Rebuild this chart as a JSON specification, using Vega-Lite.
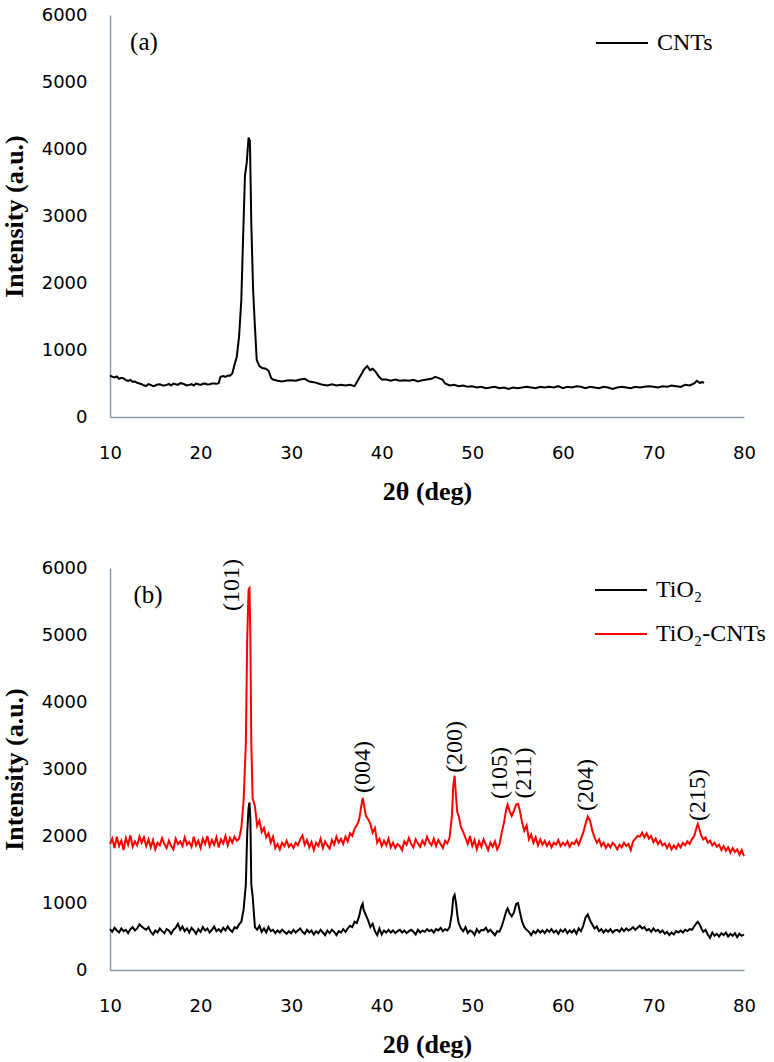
{
  "$schema": "https://vega.github.io/schema/vega-lite/v6.json",
  "background": "white",
  "padding": {"left": 1, "top": 6, "right": 5, "bottom": 5},
  "spacing": 55,
  "resolve": {"scale": {"color": "independent"}, "legend": {"color": "independent"}},
  "config": {
    "view": {"stroke": null},
    "axis": {"grid": false, "ticks": false, "tickSize": 0, "labelFlush": false, "domainColor": "#8e9ca8", "domainWidth": 1.5, "labelFont": "DejaVu Sans", "labelFontSize": 18, "labelColor": "#000", "titleFont": "Liberation Serif", "titleFontSize": 26, "titleFontWeight": "bold", "titleColor": "#000"},
    "axisX": {"labelPadding": 27, "titlePadding": 16},
    "axisY": {"labelPadding": 23, "titlePadding": 14},
    "legend": {"orient": "none", "symbolType": "stroke", "symbolStrokeWidth": 2, "symbolSize": 2704, "labelFont": "Liberation Serif", "labelFontSize": 24, "labelColor": "#000", "labelOffset": 8, "padding": 0}
  },
  "vconcat": [
    {
      "width": 634,
      "height": 402,
      "layer": [
        {
          "data": {"values": [
            {"x":10.0,"y":620},{"x":10.25,"y":600},{"x":10.5,"y":590},{"x":10.75,"y":605},{"x":11.0,"y":570},{"x":11.25,"y":585},{"x":11.5,"y":575},{"x":11.75,"y":550},{"x":12.0,"y":540},{"x":12.25,"y":555},{"x":12.5,"y":525},{"x":12.75,"y":530},{"x":13.0,"y":510},{"x":13.25,"y":500},{"x":13.5,"y":490},{"x":13.75,"y":470},{"x":14.0,"y":465},{"x":14.25,"y":490},{"x":14.5,"y":480},{"x":14.75,"y":460},{"x":15.0,"y":470},{"x":15.25,"y":485},{"x":15.5,"y":490},{"x":15.75,"y":475},{"x":16.0,"y":470},{"x":16.25,"y":480},{"x":16.5,"y":495},{"x":16.75,"y":470},{"x":17.0,"y":500},{"x":17.25,"y":490},{"x":17.5,"y":480},{"x":17.75,"y":505},{"x":18.0,"y":500},{"x":18.25,"y":485},{"x":18.5,"y":470},{"x":18.75,"y":480},{"x":19.0,"y":490},{"x":19.25,"y":470},{"x":19.5,"y":500},{"x":19.75,"y":490},{"x":20.0,"y":480},{"x":20.25,"y":495},{"x":20.5,"y":500},{"x":20.75,"y":485},{"x":21.0,"y":490},{"x":21.25,"y":500},{"x":21.5,"y":500},{"x":21.75,"y":495},{"x":22.0,"y":505},{"x":22.2,"y":600},{"x":22.5,"y":610},{"x":22.75,"y":600},{"x":23.0,"y":620},{"x":23.25,"y":615},{"x":23.5,"y":650},{"x":23.75,"y":780},{"x":24.0,"y":900},{"x":24.25,"y":1200},{"x":24.5,"y":1750},{"x":24.7,"y":2700},{"x":24.9,"y":3600},{"x":25.1,"y":3800},{"x":25.3,"y":4170},{"x":25.45,"y":4120},{"x":25.6,"y":2900},{"x":25.8,"y":1900},{"x":26.0,"y":1350},{"x":26.2,"y":850},{"x":26.5,"y":760},{"x":26.8,"y":730},{"x":27.2,"y":720},{"x":27.5,"y":690},{"x":27.8,"y":580},{"x":28.0,"y":560},{"x":28.5,"y":540},{"x":29.0,"y":530},{"x":29.5,"y":545},{"x":30.0,"y":550},{"x":30.5,"y":540},{"x":31.0,"y":560},{"x":31.5,"y":570},{"x":32.0,"y":530},{"x":32.5,"y":520},{"x":33.0,"y":500},{"x":33.5,"y":480},{"x":34.0,"y":470},{"x":34.5,"y":490},{"x":35.0,"y":470},{"x":35.5,"y":480},{"x":36.0,"y":470},{"x":36.5,"y":480},{"x":37.0,"y":460},{"x":37.5,"y":580},{"x":37.8,"y":650},{"x":38.1,"y":720},{"x":38.4,"y":760},{"x":38.7,"y":700},{"x":39.0,"y":720},{"x":39.3,"y":680},{"x":39.7,"y":600},{"x":40.0,"y":560},{"x":40.5,"y":560},{"x":41.0,"y":540},{"x":41.5,"y":560},{"x":42.0,"y":540},{"x":42.5,"y":550},{"x":43.0,"y":540},{"x":43.5,"y":555},{"x":44.0,"y":530},{"x":44.5,"y":550},{"x":45.0,"y":560},{"x":45.5,"y":570},{"x":45.9,"y":600},{"x":46.3,"y":580},{"x":46.7,"y":560},{"x":47.0,"y":500},{"x":47.5,"y":470},{"x":48.0,"y":480},{"x":48.5,"y":460},{"x":49.0,"y":470},{"x":49.5,"y":450},{"x":50.0,"y":460},{"x":50.5,"y":440},{"x":51.0,"y":450},{"x":51.5,"y":430},{"x":52.0,"y":440},{"x":52.5,"y":450},{"x":53.0,"y":430},{"x":53.5,"y":440},{"x":54.0,"y":420},{"x":54.5,"y":440},{"x":55.0,"y":430},{"x":55.5,"y":440},{"x":56.0,"y":450},{"x":56.5,"y":440},{"x":57.0,"y":430},{"x":57.5,"y":450},{"x":58.0,"y":440},{"x":58.5,"y":450},{"x":59.0,"y":440},{"x":59.5,"y":460},{"x":60.0,"y":430},{"x":60.5,"y":450},{"x":61.0,"y":440},{"x":61.5,"y":460},{"x":62.0,"y":450},{"x":62.5,"y":430},{"x":63.0,"y":450},{"x":63.5,"y":440},{"x":64.0,"y":430},{"x":64.5,"y":450},{"x":65.0,"y":440},{"x":65.5,"y":420},{"x":66.0,"y":440},{"x":66.5,"y":450},{"x":67.0,"y":440},{"x":67.5,"y":430},{"x":68.0,"y":450},{"x":68.5,"y":440},{"x":69.0,"y":450},{"x":69.5,"y":460},{"x":70.0,"y":450},{"x":70.5,"y":440},{"x":71.0,"y":460},{"x":71.5,"y":450},{"x":72.0,"y":470},{"x":72.5,"y":460},{"x":73.0,"y":450},{"x":73.5,"y":480},{"x":74.0,"y":470},{"x":74.5,"y":500},{"x":74.8,"y":540},{"x":75.1,"y":510},{"x":75.4,"y":520},{"x":75.6,"y":510}
          ]},
          "mark": {"type": "line", "strokeWidth": 2, "interpolate": "linear"},
          "encoding": {
            "x": {"field": "x", "type": "quantitative", "scale": {"domain": [10, 80], "nice": false}, "axis": {"title": "2θ (deg)", "values": [10, 20, 30, 40, 50, 60, 70, 80], "format": "d"}},
            "y": {"field": "y", "type": "quantitative", "scale": {"domain": [0, 6000], "nice": false}, "axis": {"title": "Intensity (a.u.)", "values": [0, 1000, 2000, 3000, 4000, 5000, 6000], "format": "d"}},
            "color": {"datum": "CNTs", "type": "nominal", "scale": {"domain": ["CNTs"], "range": ["#000000"]}, "legend": {"title": null, "legendX": 485, "legendY": 1}}
          }
        },
        {
          "data": {"values": [{"x": 13.75, "y": 5600, "label": "(a)"}]},
          "mark": {"type": "text", "font": "Liberation Serif", "fontSize": 25, "color": "#000", "align": "center", "baseline": "middle"},
          "encoding": {
            "x": {"field": "x", "type": "quantitative"},
            "y": {"field": "y", "type": "quantitative"},
            "text": {"field": "label"}
          }
        }
      ]
    },
    {
      "width": 634,
      "height": 402,
      "layer": [
        {
          "data": {"name": "b"},
          "mark": {"type": "line", "strokeWidth": 2},
          "encoding": {
            "x": {"field": "x", "type": "quantitative", "scale": {"domain": [10, 80], "nice": false}, "axis": {"title": "2θ (deg)", "values": [10, 20, 30, 40, 50, 60, 70, 80], "format": "d"}},
            "y": {"field": "r", "type": "quantitative", "scale": {"domain": [0, 6000], "nice": false}, "axis": {"title": "Intensity (a.u.)", "values": [0, 1000, 2000, 3000, 4000, 5000, 6000], "format": "d"}},
            "color": {"datum": "TiO₂-CNTs", "type": "nominal", "scale": {"domain": ["TiO₂", "TiO₂-CNTs"], "range": ["#000000", "#ff0000"]}, "legend": {"title": null, "legendX": 484, "legendY": -5, "rowPadding": 5}}
          }
        },
        {
          "data": {"name": "b"},
          "mark": {"type": "line", "strokeWidth": 2},
          "encoding": {
            "x": {"field": "x", "type": "quantitative"},
            "y": {"field": "t", "type": "quantitative"},
            "color": {"datum": "TiO₂", "type": "nominal"}
          }
        },
        {
          "data": {"values": [
            {"x": 14.2, "y": 5600, "label": "(b)"}
          ]},
          "mark": {"type": "text", "font": "Liberation Serif", "fontSize": 25, "color": "#000", "align": "center", "baseline": "middle"},
          "encoding": {
            "x": {"field": "x", "type": "quantitative"},
            "y": {"field": "y", "type": "quantitative"},
            "text": {"field": "label"}
          }
        },
        {
          "data": {"values": [
            {"x": 23.5, "y": 5745, "label": "(101)"},
            {"x": 37.9, "y": 3030, "label": "(004)"},
            {"x": 48.06, "y": 3330, "label": "(200)"},
            {"x": 53.1, "y": 2940, "label": "(105)"},
            {"x": 55.7, "y": 2940, "label": "(211)"},
            {"x": 62.6, "y": 2760, "label": "(204)"},
            {"x": 74.9, "y": 2610, "label": "(215)"}
          ]},
          "mark": {"type": "text", "font": "Liberation Serif", "fontSize": 24, "color": "#000", "align": "center", "baseline": "middle", "angle": 270},
          "encoding": {
            "x": {"field": "x", "type": "quantitative"},
            "y": {"field": "y", "type": "quantitative"},
            "text": {"field": "label"}
          }
        }
      ]
    }
  ],
  "datasets": {
    "b": [
      {"x":10.0,"t":610,"r":1880},{"x":10.25,"t":570,"r":1960},{"x":10.5,"t":630,"r":1820},{"x":10.75,"t":590,"r":1990},{"x":11.0,"t":560,"r":1850},{"x":11.25,"t":620,"r":1930},{"x":11.5,"t":580,"r":1790},{"x":11.75,"t":600,"r":1970},{"x":12.0,"t":550,"r":1870},{"x":12.25,"t":610,"r":2010},{"x":12.5,"t":640,"r":1840},{"x":12.75,"t":590,"r":1920},{"x":13.0,"t":620,"r":1860},{"x":13.25,"t":680,"r":1990},{"x":13.5,"t":650,"r":1900},{"x":13.75,"t":620,"r":1980},{"x":14.0,"t":600,"r":1850},{"x":14.25,"t":640,"r":1950},{"x":14.5,"t":570,"r":1830},{"x":14.75,"t":530,"r":1940},
      {"x":15.0,"t":590,"r":1800},{"x":15.25,"t":560,"r":1900},{"x":15.5,"t":620,"r":1860},{"x":15.75,"t":580,"r":1970},{"x":16.0,"t":550,"r":1880},{"x":16.25,"t":610,"r":1820},{"x":16.5,"t":590,"r":1930},{"x":16.75,"t":540,"r":1850},{"x":17.0,"t":600,"r":1800},{"x":17.25,"t":630,"r":1960},{"x":17.5,"t":690,"r":1880},{"x":17.75,"t":600,"r":1920},{"x":18.0,"t":650,"r":1850},{"x":18.25,"t":580,"r":1980},{"x":18.5,"t":620,"r":1870},{"x":18.75,"t":560,"r":1910},{"x":19.0,"t":630,"r":1840},{"x":19.25,"t":590,"r":1990},{"x":19.5,"t":540,"r":1860},{"x":19.75,"t":610,"r":1930},
      {"x":20.0,"t":570,"r":1820},{"x":20.25,"t":640,"r":1960},{"x":20.5,"t":590,"r":1880},{"x":20.75,"t":620,"r":2000},{"x":21.0,"t":560,"r":1850},{"x":21.25,"t":600,"r":1940},{"x":21.5,"t":650,"r":1870},{"x":21.75,"t":580,"r":1980},{"x":22.0,"t":610,"r":1830},{"x":22.25,"t":570,"r":1950},{"x":22.5,"t":630,"r":1890},{"x":22.75,"t":590,"r":2000},{"x":23.0,"t":650,"r":1860},{"x":23.25,"t":600,"r":1970},{"x":23.5,"t":570,"r":1900},{"x":23.75,"t":640,"r":1990},{"x":24.0,"t":620,"r":1930},{"x":24.25,"t":680,"r":1960},{"x":24.5,"t":720,"r":2120},{"x":24.75,"t":900,"r":2530},
      {"x":25.0,"t":1280,"r":3380},{"x":25.15,"t":2050,"r":4950},{"x":25.3,"t":2420,"r":5680},{"x":25.4,"t":2500,"r":5700},{"x":25.5,"t":2250,"r":4950},{"x":25.6,"t":1280,"r":3400},{"x":25.75,"t":1100,"r":2560},{"x":26.0,"t":640,"r":2450},{"x":26.25,"t":600,"r":2150},{"x":26.5,"t":660,"r":2230},{"x":26.75,"t":570,"r":2060},{"x":27.0,"t":620,"r":2120},{"x":27.25,"t":560,"r":1980},{"x":27.5,"t":640,"r":2040},{"x":27.75,"t":580,"r":1900},{"x":28.0,"t":600,"r":1990},{"x":28.25,"t":550,"r":1820},{"x":28.5,"t":590,"r":1880},{"x":28.75,"t":560,"r":1800},{"x":29.0,"t":600,"r":1900},
      {"x":29.25,"t":570,"r":1850},{"x":29.5,"t":540,"r":1930},{"x":29.75,"t":580,"r":1840},{"x":30.0,"t":550,"r":1880},{"x":30.25,"t":600,"r":1820},{"x":30.5,"t":560,"r":1900},{"x":30.75,"t":590,"r":1860},{"x":31.0,"t":620,"r":1950},{"x":31.25,"t":570,"r":2010},{"x":31.5,"t":540,"r":1870},{"x":31.75,"t":600,"r":1940},{"x":32.0,"t":560,"r":1830},{"x":32.25,"t":590,"r":1910},{"x":32.5,"t":530,"r":1790},{"x":32.75,"t":580,"r":1900},{"x":33.0,"t":550,"r":1850},{"x":33.25,"t":600,"r":1960},{"x":33.5,"t":560,"r":1820},{"x":33.75,"t":520,"r":1920},{"x":34.0,"t":590,"r":1860},
      {"x":34.25,"t":550,"r":1810},{"x":34.5,"t":600,"r":1940},{"x":34.75,"t":570,"r":1870},{"x":35.0,"t":520,"r":1990},{"x":35.25,"t":580,"r":1900},{"x":35.5,"t":560,"r":1960},{"x":35.75,"t":610,"r":1880},{"x":36.0,"t":570,"r":1990},{"x":36.25,"t":620,"r":1920},{"x":36.5,"t":660,"r":2040},{"x":36.75,"t":640,"r":2000},{"x":37.0,"t":720,"r":2110},{"x":37.25,"t":700,"r":2160},{"x":37.5,"t":800,"r":2240},{"x":37.75,"t":950,"r":2450},{"x":37.9,"t":990,"r":2570},{"x":38.0,"t":900,"r":2500},{"x":38.25,"t":820,"r":2300},{"x":38.5,"t":740,"r":2250},{"x":38.75,"t":640,"r":2180},
      {"x":39.0,"t":690,"r":2050},{"x":39.25,"t":580,"r":2120},{"x":39.5,"t":520,"r":1900},{"x":39.75,"t":620,"r":1960},{"x":40.0,"t":530,"r":1850},{"x":40.25,"t":590,"r":1930},{"x":40.5,"t":560,"r":1860},{"x":40.75,"t":600,"r":1960},{"x":41.0,"t":560,"r":1830},{"x":41.25,"t":590,"r":1900},{"x":41.5,"t":550,"r":1820},{"x":41.75,"t":580,"r":1880},{"x":42.0,"t":600,"r":1850},{"x":42.25,"t":560,"r":1790},{"x":42.5,"t":590,"r":1920},{"x":42.75,"t":550,"r":1870},{"x":43.0,"t":580,"r":1970},{"x":43.25,"t":600,"r":1880},{"x":43.5,"t":570,"r":1830},{"x":43.75,"t":530,"r":1950},
      {"x":44.0,"t":600,"r":1890},{"x":44.25,"t":560,"r":1840},{"x":44.5,"t":590,"r":1930},{"x":44.75,"t":570,"r":1870},{"x":45.0,"t":610,"r":1990},{"x":45.25,"t":580,"r":1910},{"x":45.5,"t":600,"r":1860},{"x":45.75,"t":560,"r":1960},{"x":46.0,"t":610,"r":1850},{"x":46.25,"t":590,"r":1940},{"x":46.5,"t":630,"r":1880},{"x":46.75,"t":580,"r":1820},{"x":47.0,"t":610,"r":1930},{"x":47.25,"t":590,"r":1890},{"x":47.5,"t":640,"r":1980},{"x":47.75,"t":850,"r":2300},{"x":47.9,"t":1080,"r":2750},{"x":48.05,"t":1120,"r":2900},{"x":48.2,"t":1000,"r":2600},{"x":48.35,"t":820,"r":2350},
      {"x":48.5,"t":700,"r":2300},{"x":48.75,"t":620,"r":2130},{"x":49.0,"t":580,"r":2060},{"x":49.25,"t":640,"r":1970},{"x":49.5,"t":550,"r":1880},{"x":49.75,"t":590,"r":2000},{"x":50.0,"t":570,"r":1850},{"x":50.25,"t":520,"r":1940},{"x":50.5,"t":610,"r":1800},{"x":50.75,"t":560,"r":1920},{"x":51.0,"t":600,"r":1840},{"x":51.25,"t":590,"r":1950},{"x":51.5,"t":630,"r":1870},{"x":51.75,"t":570,"r":1790},{"x":52.0,"t":600,"r":1900},{"x":52.25,"t":560,"r":1840},{"x":52.5,"t":520,"r":1920},{"x":52.75,"t":580,"r":1800},{"x":53.0,"t":570,"r":1870},{"x":53.25,"t":650,"r":2050},
      {"x":53.5,"t":760,"r":2200},{"x":53.75,"t":880,"r":2400},{"x":53.9,"t":920,"r":2470},{"x":54.1,"t":850,"r":2380},{"x":54.35,"t":800,"r":2300},{"x":54.6,"t":860,"r":2380},{"x":54.85,"t":990,"r":2470},{"x":55.05,"t":1000,"r":2480},{"x":55.25,"t":870,"r":2380},{"x":55.5,"t":720,"r":2200},{"x":55.75,"t":640,"r":2080},{"x":56.0,"t":600,"r":2160},{"x":56.25,"t":570,"r":1950},{"x":56.5,"t":520,"r":2020},{"x":56.75,"t":580,"r":1900},{"x":57.0,"t":550,"r":1980},{"x":57.25,"t":600,"r":1860},{"x":57.5,"t":560,"r":1950},{"x":57.75,"t":590,"r":1870},{"x":58.0,"t":550,"r":1930},
      {"x":58.25,"t":600,"r":1850},{"x":58.5,"t":570,"r":1910},{"x":58.75,"t":610,"r":1830},{"x":59.0,"t":560,"r":1900},{"x":59.25,"t":590,"r":1870},{"x":59.5,"t":540,"r":1940},{"x":59.75,"t":600,"r":1850},{"x":60.0,"t":570,"r":1900},{"x":60.25,"t":610,"r":1860},{"x":60.5,"t":550,"r":1920},{"x":60.75,"t":590,"r":1840},{"x":61.0,"t":560,"r":1900},{"x":61.25,"t":600,"r":1880},{"x":61.5,"t":540,"r":1940},{"x":61.75,"t":620,"r":1870},{"x":62.0,"t":580,"r":1960},{"x":62.25,"t":660,"r":2050},{"x":62.5,"t":780,"r":2180},{"x":62.75,"t":830,"r":2290},{"x":63.0,"t":740,"r":2230},
      {"x":63.25,"t":680,"r":2080},{"x":63.5,"t":620,"r":1980},{"x":63.75,"t":650,"r":1900},{"x":64.0,"t":580,"r":1950},{"x":64.25,"t":610,"r":1850},{"x":64.5,"t":560,"r":1900},{"x":64.75,"t":600,"r":1820},{"x":65.0,"t":570,"r":1880},{"x":65.25,"t":610,"r":1830},{"x":65.5,"t":560,"r":1900},{"x":65.75,"t":590,"r":1860},{"x":66.0,"t":600,"r":1800},{"x":66.25,"t":570,"r":1870},{"x":66.5,"t":620,"r":1830},{"x":66.75,"t":580,"r":1900},{"x":67.0,"t":620,"r":1850},{"x":67.25,"t":590,"r":1880},{"x":67.5,"t":610,"r":1790},{"x":67.75,"t":640,"r":1920},{"x":68.0,"t":600,"r":1960},
      {"x":68.25,"t":630,"r":2000},{"x":68.5,"t":660,"r":1990},{"x":68.75,"t":620,"r":2050},{"x":69.0,"t":640,"r":1980},{"x":69.25,"t":590,"r":2040},{"x":69.5,"t":610,"r":1960},{"x":69.75,"t":570,"r":2000},{"x":70.0,"t":620,"r":1910},{"x":70.25,"t":580,"r":1960},{"x":70.5,"t":600,"r":1880},{"x":70.75,"t":560,"r":1930},{"x":71.0,"t":590,"r":1860},{"x":71.25,"t":540,"r":1890},{"x":71.5,"t":570,"r":1820},{"x":71.75,"t":520,"r":1880},{"x":72.0,"t":560,"r":1800},{"x":72.25,"t":530,"r":1860},{"x":72.5,"t":580,"r":1810},{"x":72.75,"t":560,"r":1880},{"x":73.0,"t":590,"r":1830},
      {"x":73.25,"t":560,"r":1900},{"x":73.5,"t":600,"r":1860},{"x":73.75,"t":580,"r":1920},{"x":74.0,"t":610,"r":1880},{"x":74.25,"t":600,"r":1950},{"x":74.5,"t":650,"r":2000},{"x":74.75,"t":700,"r":2120},{"x":74.9,"t":720,"r":2180},{"x":75.1,"t":680,"r":2090},{"x":75.3,"t":620,"r":2000},{"x":75.5,"t":570,"r":1950},{"x":75.75,"t":600,"r":1980},{"x":76.0,"t":530,"r":1900},{"x":76.25,"t":480,"r":1930},{"x":76.5,"t":560,"r":1860},{"x":76.75,"t":510,"r":1900},{"x":77.0,"t":540,"r":1840},{"x":77.25,"t":500,"r":1870},{"x":77.5,"t":550,"r":1790},{"x":77.75,"t":520,"r":1850},
      {"x":78.0,"t":560,"r":1780},{"x":78.25,"t":500,"r":1830},{"x":78.5,"t":540,"r":1750},{"x":78.75,"t":510,"r":1820},{"x":79.0,"t":550,"r":1760},{"x":79.25,"t":490,"r":1800},{"x":79.5,"t":540,"r":1720},{"x":79.75,"t":510,"r":1790},{"x":80.0,"t":530,"r":1700}
    ]
  }
}
